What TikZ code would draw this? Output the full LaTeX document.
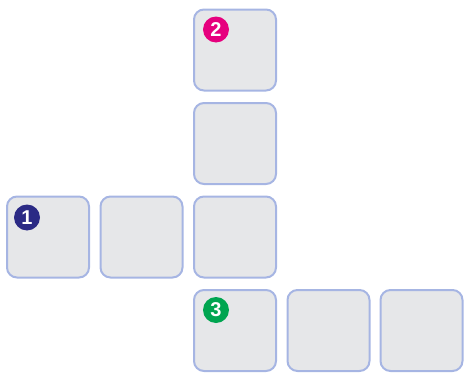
\documentclass[tikz,border=0pt]{standalone}
\usepackage{fontspec}
\setmainfont{Liberation Sans}
\definecolor{boxfill}{HTML}{E6E7E9}
\definecolor{boxline}{HTML}{A6B5E3}
\definecolor{cnavy}{HTML}{2B2A85}
\definecolor{cmag}{HTML}{E6007E}
\definecolor{cgreen}{HTML}{00A550}
\begin{document}
\begin{tikzpicture}[x=1pt,y=-1pt,
  tile/.style={draw=boxline, fill=boxfill, line width=2pt, rounded corners=10pt,
    minimum width=82pt, minimum height=81pt, inner sep=0pt},
  badge/.style={circle, fill=#1, minimum size=26pt, inner sep=0pt, text=white,
    font=\bfseries\fontsize{20}{20}\selectfont}]
\useasboundingbox (0,0) rectangle (464,375);
\node[tile] (b20) at (235,50) {};
\node[tile] (b21) at (235,143.5) {};
\node[tile] (b02) at (48,237) {};
\node[tile] (b12) at (141.5,237) {};
\node[tile] (b22) at (235,237) {};
\node[tile] (b23) at (235,330.5) {};
\node[tile] (b33) at (328.5,330.5) {};
\node[tile] (b43) at (421.5,330.5) {};
\node[badge=cnavy] (n1) at ([xshift=21pt,yshift=-22pt]b02.north west) {1};
\node[badge=cmag] (n2) at ([xshift=23pt,yshift=-21pt]b20.north west) {2};
\node[badge=cgreen] (n3) at ([xshift=23pt,yshift=-21pt]b23.north west) {3};
\end{tikzpicture}
\end{document}
